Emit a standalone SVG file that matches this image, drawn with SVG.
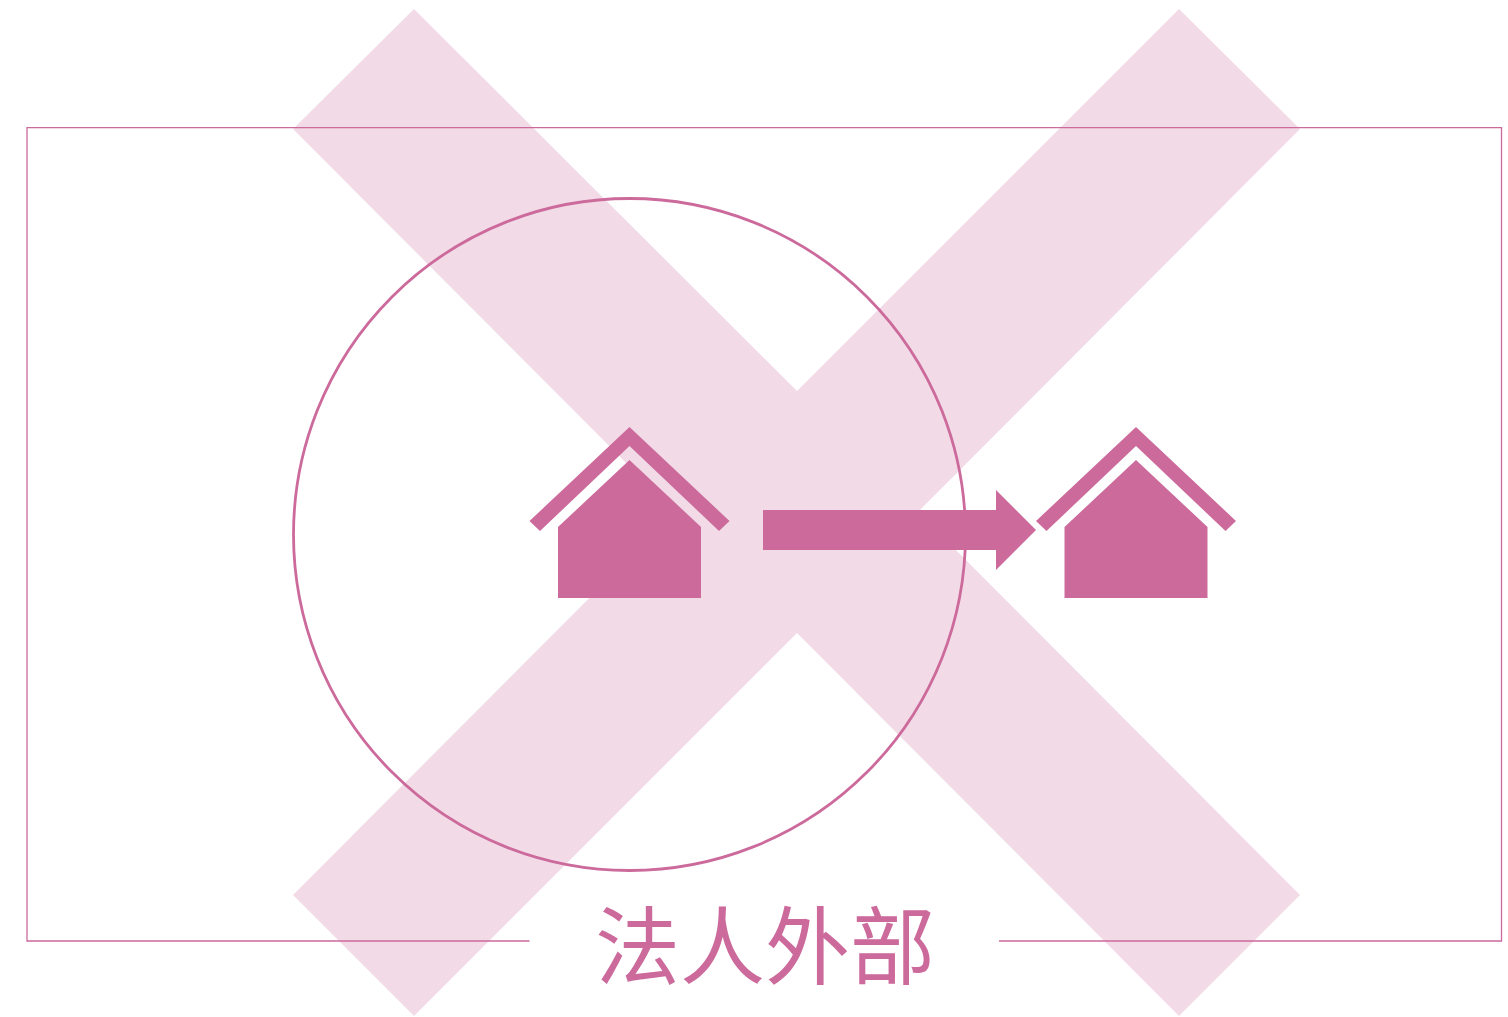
<svg xmlns="http://www.w3.org/2000/svg" width="1508" height="1017" viewBox="0 0 1508 1017">
<style>
.fill{fill:#cc6a9c}
.line{fill:none;stroke:#cc6a9c}
.label{font-family:"Noto Sans CJK TC","Noto Sans CJK JP",sans-serif;font-size:85px;fill:#cc6a9c}
</style>
<defs>
<g id="house">
<path d="M0 0L100 94 89.500 104 0 19-89.500 104-100 94Z"/>
<path d="M0 33L71.500 100V171H-71.500V100Z"/>
</g>
</defs>
<rect width="1508" height="1017" fill="#fff"/>
<g id="cross"><path fill="#f2dbe7" d="M414 9L797 391 1179 9 1300 129 918 512 1300 895 1179 1016 797 633 414 1016 293 895 675 512 293 129Z"/></g>
<g id="frame"><path class="line" stroke-width="1.300" d="M529.500 941H27V127.700H1501.500V941H999"/></g>
<g id="circle"><circle class="line" stroke-width="2.800" cx="629.500" cy="534.500" r="336"/></g>
<g id="house-left" class="fill"><use href="#house" x="629.500" y="427"/></g>
<g id="house-right" class="fill"><use href="#house" x="1136" y="427"/></g>
<g id="connectors"><path class="fill" d="M763 510H996V490L1036 530 996 570V550H763Z"/></g>
<g id="label"><text class="label" x="595" y="978">法人外部</text></g>
</svg>
